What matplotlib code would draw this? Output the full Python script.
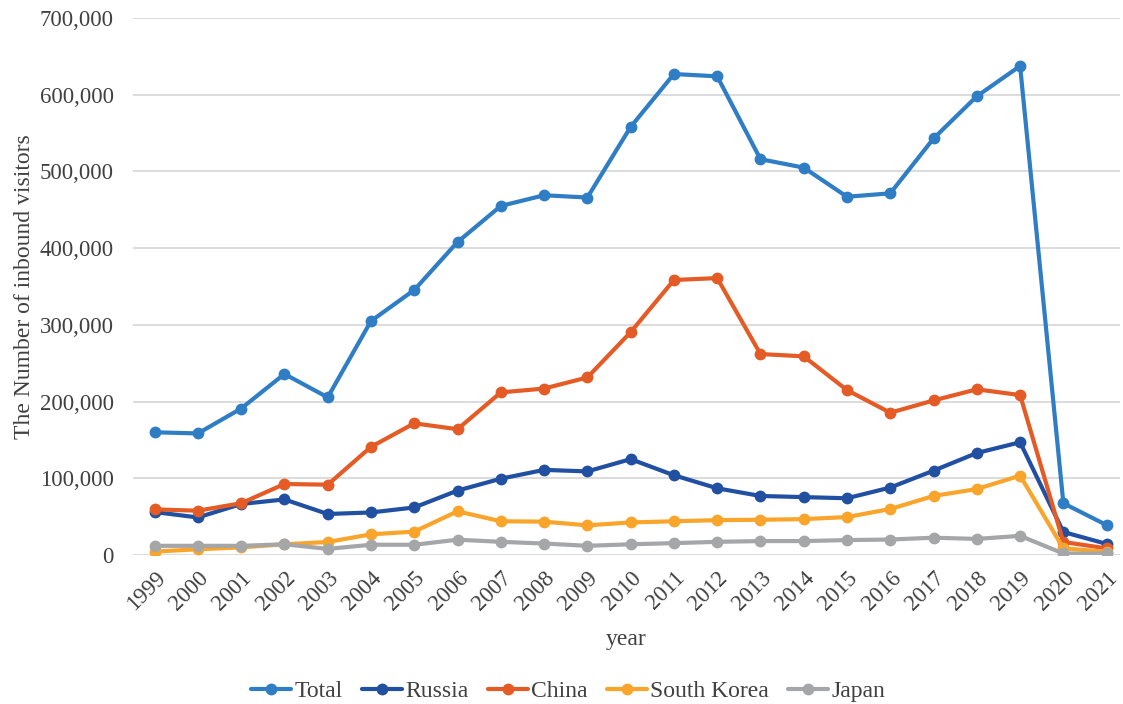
import matplotlib
matplotlib.use("Agg")
import matplotlib.pyplot as plt
from matplotlib.ticker import FuncFormatter, MultipleLocator

years = [str(y) for y in range(1999, 2022)]
total = [160000, 158500, 191000, 236000, 205500, 305000, 345500, 408000, 455000, 469000, 466000,
         558000, 627000, 624000, 516000, 505000, 467000, 471500, 543000, 598000, 637500, 67500, 39000]
russia = [56000, 49000, 66500, 72500, 53500, 55500, 62000, 84000, 99500, 111000, 109000,
          125000, 104000, 87000, 77000, 75500, 74000, 88000, 110000, 133000, 147000, 30000, 14500]
china = [59500, 57800, 67500, 92600, 91700, 141000, 171700, 164000, 212000, 217000, 231500,
         290500, 358500, 361000, 262000, 259000, 215000, 185500, 201500, 216000, 208500, 17000, 8700]
south_korea = [4500, 7500, 10000, 14000, 17000, 27000, 30500, 57000, 44000, 43500, 38700,
               42500, 44000, 45500, 46000, 46800, 49500, 60000, 77000, 86000, 103500, 8700, 4300]
japan = [12000, 12000, 12000, 14000, 8000, 13400, 13400, 20000, 17200, 15000, 12000,
         14000, 15500, 17200, 18200, 18200, 19500, 20200, 22600, 21000, 25000, 2000, 2000]

series = [("Total", total, "#2E7DC5"),
          ("Russia", russia, "#2150A2"),
          ("China", china, "#E55B26"),
          ("South Korea", south_korea, "#F9A52C"),
          ("Japan", japan, "#A5A6A8")]

plt.rcParams['font.family'] = ['Liberation Serif', 'DejaVu Serif']

fig = plt.figure(figsize=(11.23, 7.04), dpi=100)
ax = fig.add_axes([0.1184, 0.2116, 0.8786, 0.7628])

x = list(range(len(years)))
for name, vals, col in series:
    ax.plot(x, vals, color=col, lw=3.0, marker='o', markersize=8.5,
            markeredgewidth=0, label=name, solid_capstyle='round', zorder=3)

ax.set_ylim(0, 700000)
ax.set_xlim(-0.5, 22.3)
ax.yaxis.set_major_locator(MultipleLocator(100000))
ax.yaxis.set_major_formatter(FuncFormatter(lambda v, p: f"{int(v):,}"))
ax.grid(axis='y', color='#D9D9D9', lw=1.3, zorder=0)
ax.set_axisbelow(True)
for s in ax.spines.values():
    s.set_visible(False)
ax.tick_params(axis='both', length=0, labelsize=16.5, colors='#404040')
ax.tick_params(axis='y', pad=14)
ax.set_xticks(x)
ax.set_xticklabels(years, rotation=45, ha='right', rotation_mode='anchor')
ax.tick_params(axis='x', pad=9)

ax.set_ylabel("The Number of inbound visitors", fontsize=17, color='#404040', labelpad=3)
ax.set_xlabel("year", fontsize=17, color='#404040', labelpad=10)

leg = fig.legend(loc='center', bbox_to_anchor=(0.506, 0.018), ncol=5, frameon=False,
                 fontsize=17, handlelength=1.7, columnspacing=0.8, handletextpad=0.15,
                 labelcolor='#404040')
fig.savefig("out.png", dpi=100)
